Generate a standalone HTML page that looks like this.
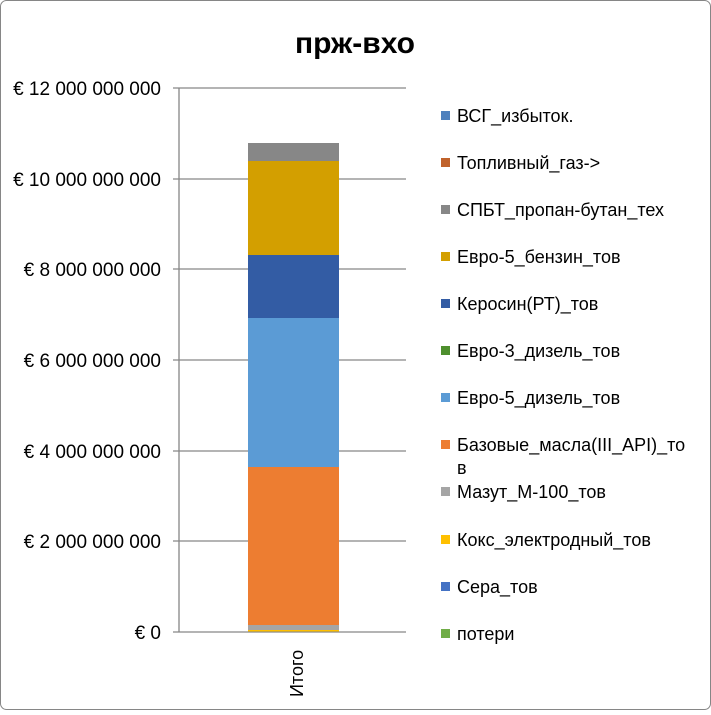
<!DOCTYPE html><html><head><style>
body{margin:0;width:711px;height:710px;background:#fff;overflow:hidden;font-family:"Liberation Sans","DejaVu Sans",sans-serif}
</style></head><body>
<svg width="711" height="710" xmlns="http://www.w3.org/2000/svg" font-family="Liberation Sans, DejaVu Sans, sans-serif">
<rect x="0.5" y="0.5" width="710" height="709" rx="6" fill="#fff" stroke="#868686"/>
<text x="355" y="53" font-size="30" font-weight="bold" text-anchor="middle" fill="#000">прж-вхо</text>
<g stroke="#868686" stroke-width="1.3">
<line x1="173" y1="88" x2="406" y2="88"/><line x1="173" y1="179" x2="406" y2="179"/>
<line x1="173" y1="269" x2="406" y2="269"/><line x1="173" y1="360" x2="406" y2="360"/>
<line x1="173" y1="451" x2="406" y2="451"/><line x1="173" y1="541" x2="406" y2="541"/>
<line x1="173" y1="632" x2="406" y2="632"/><line x1="179" y1="88" x2="179" y2="632"/>
</g>
<g font-size="19" text-anchor="end" fill="#000">
<text x="161" y="95">€ 12 000 000 000</text><text x="161" y="186">€ 10 000 000 000</text>
<text x="161" y="276">€ 8 000 000 000</text><text x="161" y="367">€ 6 000 000 000</text>
<text x="161" y="458">€ 4 000 000 000</text><text x="161" y="548">€ 2 000 000 000</text>
<text x="161" y="639">€ 0</text></g>
<rect x="248" y="143" width="91" height="18" fill="#878787"/>
<rect x="248" y="161" width="91" height="94" fill="#d39f00"/>
<rect x="248" y="255" width="91" height="63" fill="#335ca4"/>
<rect x="248" y="318" width="91" height="149" fill="#5b9bd5"/>
<rect x="248" y="467" width="91" height="158" fill="#ed7d31"/>
<rect x="248" y="625" width="91" height="5" fill="#a5a5a5"/>
<rect x="248" y="630" width="91" height="1.5" fill="#ffc000"/>
<text transform="translate(303,697) rotate(-90)" font-size="18" fill="#000">Итого</text>
<g font-size="18" fill="#000">
<rect x="441" y="111" width="9" height="9" fill="#4f81bd"/><text x="457" y="122">ВСГ_избыток.</text>
<rect x="441" y="158" width="9" height="9" fill="#c0622b"/><text x="457" y="169">Топливный_газ-&gt;</text>
<rect x="441" y="205" width="9" height="9" fill="#878787"/><text x="457" y="216">СПБТ_пропан-бутан_тех</text>
<rect x="441" y="252" width="9" height="9" fill="#d39f00"/><text x="457" y="263">Евро-5_бензин_тов</text>
<rect x="441" y="299" width="9" height="9" fill="#335ca4"/><text x="457" y="310">Керосин(РТ)_тов</text>
<rect x="441" y="346" width="9" height="9" fill="#4e8f2e"/><text x="457" y="357">Евро-3_дизель_тов</text>
<rect x="441" y="393" width="9" height="9" fill="#5b9bd5"/><text x="457" y="404">Евро-5_дизель_тов</text>
<rect x="441" y="440" width="9" height="9" fill="#ed7d31"/><text x="457" y="451">Базовые_масла(III_API)_то</text><text x="457" y="474">в</text>
<rect x="441" y="487" width="9" height="9" fill="#a5a5a5"/><text x="457" y="498">Мазут_М-100_тов</text>
<rect x="441" y="535" width="9" height="9" fill="#ffc000"/><text x="457" y="546">Кокс_электродный_тов</text>
<rect x="441" y="582" width="9" height="9" fill="#4472c4"/><text x="457" y="593">Сера_тов</text>
<rect x="441" y="629" width="9" height="9" fill="#70ad47"/><text x="457" y="640">потери</text>
</g>
</svg>
</body></html>
